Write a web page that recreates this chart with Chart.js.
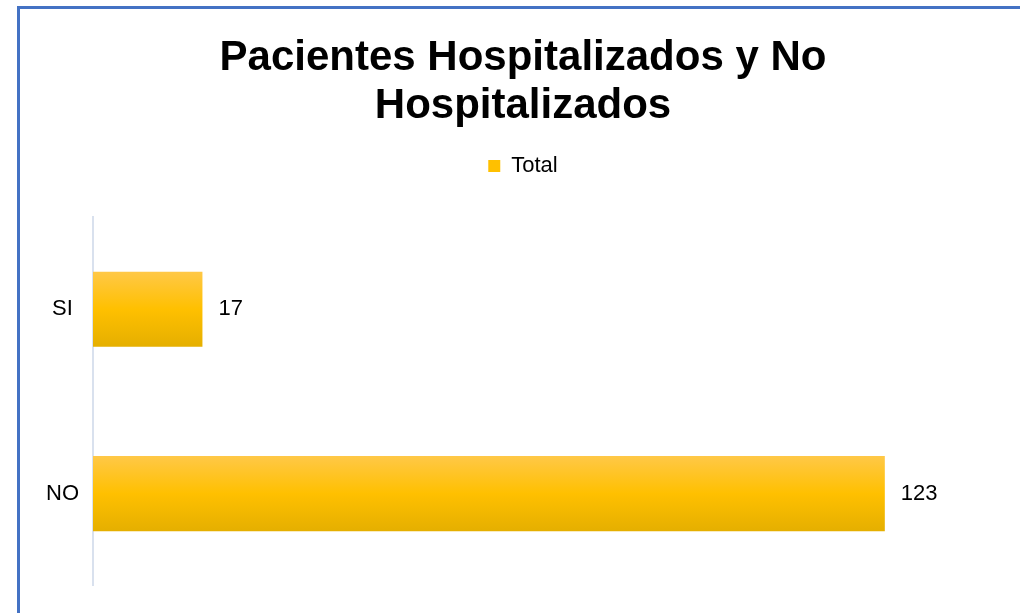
<!DOCTYPE html>
<html>
<head>
<meta charset="utf-8">
<script src="https://cdn.jsdelivr.net/npm/chart.js@4"></script>
<style>
  html, body { margin: 0; padding: 0; background: #fff; overflow: hidden; }
  #wrap { position: relative; width: 1020px; height: 613px; }
  #frame {
    position: absolute; left: 17px; top: 6px; right: -10px; bottom: -10px;
    border-left: 3px solid #4472C4; border-top: 3px solid #4472C4;
    pointer-events: none;
  }
</style>
</head>
<body>
<div id="wrap">
  <canvas id="myChart" width="1020" height="613"></canvas>
  <div id="frame"></div>
</div>
<script>
// datos del gráfico
const categories = ["SI", "NO"];
const totals = [17, 123];
const seriesName = "Total";
const titleLines = ["Pacientes Hospitalizados y No", "Hospitalizados"];

const FONT = "'Liberation Sans', Arial, sans-serif";

// degradado vertical para cada barra
const barGradient = {
  id: "barGradient",
  beforeDatasetsDraw(chart) {
    const ctx = chart.ctx;
    chart.getDatasetMeta(0).data.forEach(function (bar) {
      const p = bar.getProps(["y", "height"], true);
      const g = ctx.createLinearGradient(0, p.y - p.height / 2, 0, p.y + p.height / 2);
      g.addColorStop(0, "#FFC847");
      g.addColorStop(0.5, "#FFC000");
      g.addColorStop(1, "#E5AF00");
      bar.options.backgroundColor = g;
    });
  },
};

// etiquetas de valor a la derecha de las barras
const valueLabels = {
  id: "valueLabels",
  afterDatasetsDraw(chart) {
    const ctx = chart.ctx;
    ctx.save();
    ctx.font = "22px " + FONT;
    ctx.fillStyle = "#000";
    ctx.textAlign = "left";
    ctx.textBaseline = "middle";
    chart.getDatasetMeta(0).data.forEach(function (bar, i) {
      const p = bar.getProps(["x", "y"], true);
      ctx.fillText(String(totals[i]), p.x + 16, p.y);
    });
    ctx.restore();
  },
};

// espacio extra bajo la leyenda
const legendGap = {
  id: "legendGap",
  beforeInit(chart) {
    const fit = chart.legend.fit;
    chart.legend.fit = function () {
      fit.bind(chart.legend)();
      this.height += 30;
    };
  },
};

const ctx = document.getElementById("myChart").getContext("2d");
const myChart = new Chart(ctx, {
  type: "bar",
  data: {
    labels: categories,
    datasets: [
      {
        label: seriesName,
        data: totals,
        backgroundColor: function () {
          return "#FFC000";
        },
        borderWidth: 0,
        barPercentage: 0.407,
        categoryPercentage: 1,
      },
    ],
  },
  options: {
    indexAxis: "y",
    responsive: false,
    animation: false,
    layout: { padding: { left: 26, right: 0, top: 0, bottom: 18 } },
    plugins: {
      title: {
        display: true,
        text: titleLines,
        color: "#000",
        font: { family: FONT, size: 42, weight: "bold", lineHeight: 48 / 42 },
        padding: { top: 34, bottom: 15 },
      },
      legend: {
        display: true,
        position: "top",
        labels: {
          color: "#000",
          font: { family: FONT, size: 22 },
          boxWidth: 12,
          boxHeight: 12,
          padding: 10,
        },
      },
      tooltip: { enabled: false },
    },
    scales: {
      x: {
        display: false,
        min: 0,
        max: 144,
      },
      y: {
        afterFit(scale) {
          scale.width = 67;
        },
        grid: { display: false, drawTicks: false },
        border: { display: true, color: "#D9E1EE", width: 2 },
        ticks: {
          color: "#000",
          font: { family: FONT, size: 22 },
          crossAlign: "center",
          padding: 14,
        },
      },
    },
  },
  plugins: [barGradient, valueLabels, legendGap],
});
</script>
</body>
</html>
